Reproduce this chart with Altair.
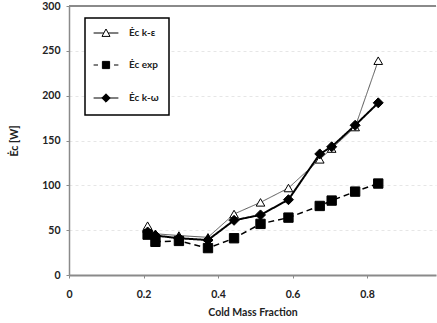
import altair as alt
import pandas as pd

# Cold mass fraction and cold-stream energy rate [W] for each series
cold_mass_fraction = [0.211, 0.232, 0.295, 0.373, 0.443, 0.514, 0.589, 0.673, 0.705, 0.768, 0.830]
ec_k_epsilon = [55, 46, 44, 42, 68, 81, 97, 129, 141, 165, 239]
ec_exp = [45, 37, 38, 30, 41, 57, 64, 77, 83, 93, 102]
ec_k_omega = [48, 44, 41, 39, 61, 67, 84, 135, 143, 167, 192]

series_names = ["Ėc k-ε", "Ėc exp", "Ėc k-ω"]
y_ticks = [0, 50, 100, 150, 200, 250, 300]
x_ticks = [0, 0.2, 0.4, 0.6, 0.8, 1.0]

rows = []
for name, vals in zip(series_names, [ec_k_epsilon, ec_exp, ec_k_omega]):
    for xv, yv in zip(cold_mass_fraction, vals):
        rows.append({"x": xv, "y": yv, "series": name})
df = pd.DataFrame(rows)

FONT = "Lato"
W, H = 367, 269

x_enc = alt.X(
    "x:Q",
    scale=alt.Scale(domain=[0, 0.985], nice=False, zero=False),
    axis=alt.Axis(
        title="Cold Mass Fraction", values=x_ticks, format="~g", grid=False,
        domainColor="#8a8a8a", domainWidth=2, tickColor="#8a8a8a", tickSize=3,
        labelPadding=11, titlePadding=8, labelFlush=False,
    ),
)
y_enc = alt.Y(
    "y:Q",
    scale=alt.Scale(domain=[0, 300], nice=False),
    axis=alt.Axis(
        title="Ėc  [W]", values=y_ticks, grid=True, gridColor="#e6e6e6",
        gridDash=[3, 3], domainColor="#8a8a8a", domainWidth=1.5,
        tickColor="#8a8a8a", tickSize=3, labelPadding=6, titlePadding=22,
    ),
)

lines = alt.Chart(df).mark_line().encode(
    x=x_enc,
    y=y_enc,
    detail="series:N",
    color=alt.Color("series:N", scale=alt.Scale(domain=series_names, range=["#555555", "black", "black"]), legend=None),
    strokeDash=alt.StrokeDash("series:N", scale=alt.Scale(domain=series_names, range=[[1, 0], [6, 4], [1, 0]]), legend=None),
    strokeWidth=alt.StrokeWidth("series:N", scale=alt.Scale(domain=series_names, range=[1, 2, 1.6]), legend=None),
)

points = alt.Chart(df).mark_point(opacity=1, stroke="black", strokeWidth=1).encode(
    x="x:Q",
    y="y:Q",
    shape=alt.Shape("series:N", scale=alt.Scale(domain=series_names, range=["triangle-up", "square", "diamond"]), legend=None),
    fill=alt.Fill("series:N", scale=alt.Scale(domain=series_names, range=["white", "black", "black"]), legend=None),
    size=alt.Size("series:N", scale=alt.Scale(domain=series_names, range=[75, 100, 100]), legend=None),
)

# Legend symbols: a short line segment with the marker on it
legend_paths = [
    "M-3.1,0H-0.55M0.55,0H3.1M0,-1L1,0.85L-1,0.85Z",
    "M-3.1,0H-2.0M2.0,0H3.1M-0.9,-0.9H0.9V0.9H-0.9Z",
    "M-3.1,0H3.1M0,-1.05L1.05,0L0,1.05L-1.05,0Z",
]
legend_props = dict(
    title=None, orient="none", legendX=16, legendY=12,
    strokeColor="black", fillColor="white",
    padding=10, rowPadding=20, symbolSize=64, symbolStrokeWidth=1,
    symbolStrokeColor="black",
    labelFont=FONT, labelFontSize=10, labelFontWeight="bold",
    labelColor="#222222", offset=0,
)
legend_layer = alt.Chart(df).transform_filter("false").mark_point(
    opacity=1, strokeWidth=1
).encode(
    x="x:Q",
    y="y:Q",
    shape=alt.Shape(
        "series:N",
        scale=alt.Scale(domain=series_names, range=legend_paths),
        legend=alt.Legend(**legend_props),
    ),
    fill=alt.Fill("series:N", scale=alt.Scale(domain=series_names, range=["white", "black", "black"]),
                  legend=alt.Legend(**legend_props)),
    stroke=alt.Stroke("series:N", scale=alt.Scale(domain=series_names, range=["black", "black", "black"]),
                      legend=alt.Legend(**legend_props)),
)

# Top frame line of the plot area
frame_top = alt.Chart(df).mark_rule(color="#8a8a8a", strokeWidth=2).encode(
    x=alt.value(0), x2=alt.value(W), y=alt.value(0)
)

chart = alt.layer(frame_top, lines, points, legend_layer).resolve_scale(
    shape="independent", fill="independent", stroke="independent"
).properties(
    width=W, height=H,
    autosize=alt.AutoSizeParams(type="none"),
    padding={"left": 69, "top": 6, "right": 1, "bottom": 48},
).configure_view(stroke=None).configure_axis(
    labelFont=FONT, labelFontSize=10.5, labelFontWeight="bold", labelColor="#222222",
    titleFont=FONT, titleFontSize=10.5, titleFontWeight="bold", titleColor="#222222",
).configure_legend(strokeWidth=1.5, labelOffset=18, symbolOffset=6)

chart.save("out.html", embed_options={"renderer": "svg", "actions": False})
